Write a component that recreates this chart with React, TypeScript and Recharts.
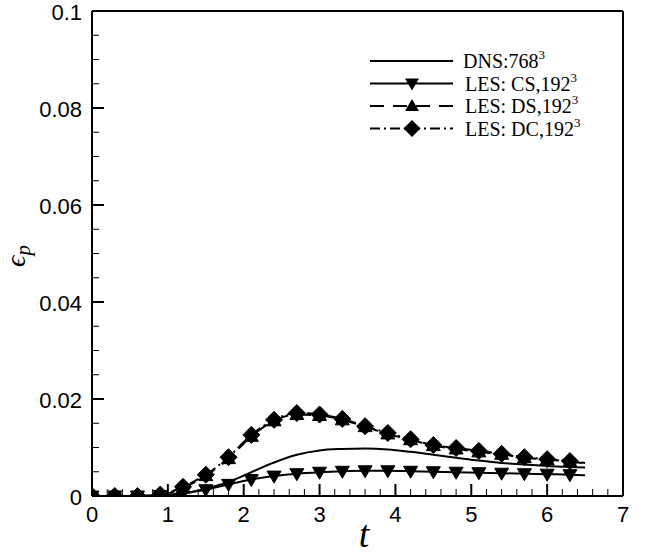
import { LineChart, Line, XAxis, YAxis, ReferenceLine } from 'recharts';

// time samples (markers every 0.3, curves end at 6.5)
const times = [0, 0.3, 0.6, 0.9, 1.2, 1.5, 1.8, 2.1, 2.4, 2.7, 3.0, 3.3, 3.6, 3.9, 4.2, 4.5, 4.8, 5.1, 5.4, 5.7, 6.0, 6.3, 6.5];
const dns768 = [0, 0, 0, 0, 0.0005, 0.0015, 0.0029, 0.0049, 0.0069, 0.0085, 0.0094, 0.0097, 0.0098, 0.0096, 0.0091, 0.0085, 0.0079, 0.0073, 0.0068, 0.0065, 0.0062, 0.006, 0.0059];
const lesCS = [0, 0, 0, 0.0001, 0.0006, 0.0013, 0.0024, 0.0034, 0.0041, 0.0046, 0.0049, 0.0051, 0.0052, 0.0052, 0.0051, 0.005, 0.0049, 0.0048, 0.0047, 0.0046, 0.0045, 0.0044, 0.0043];
const lesDS = [0, 0, 0, 0.0002, 0.0017, 0.0042, 0.0077, 0.0123, 0.0155, 0.0168, 0.0166, 0.0157, 0.0143, 0.0128, 0.0116, 0.0104, 0.0097, 0.0091, 0.0086, 0.0079, 0.0075, 0.0071, 0.0067];
const lesDC = [0, 0, 0, 0.0003, 0.0019, 0.0044, 0.008, 0.0126, 0.0157, 0.0171, 0.0168, 0.0159, 0.0144, 0.013, 0.0117, 0.0105, 0.0099, 0.0093, 0.0087, 0.008, 0.0076, 0.0072, 0.0068];

const xTicks = [0, 0.2, 0.4, 0.6, 0.8, 1, 1.2, 1.4, 1.6, 1.8, 2, 2.2, 2.4, 2.6, 2.8, 3, 3.2, 3.4, 3.6, 3.8, 4, 4.2, 4.4, 4.6, 4.8, 5, 5.2, 5.4, 5.6, 5.8, 6, 6.2, 6.4, 6.6, 6.8, 7];
const xLabels = [0, 1, 2, 3, 4, 5, 6, 7];
const yTicks = [0, 0.005, 0.01, 0.015, 0.02, 0.025, 0.03, 0.035, 0.04, 0.045, 0.05, 0.055, 0.06, 0.065, 0.07, 0.075, 0.08, 0.085, 0.09, 0.095, 0.1];
const yLabels = [0, 0.02, 0.04, 0.06, 0.08, 0.1];

const data = times.map((t, i) => ({ t, dns: dns768[i], cs: lesCS[i], ds: lesDS[i], dc: lesDC[i] }));
const markerCount = 22;

const tickFont = '"Liberation Sans", Arial, sans-serif';
const serif = '"Liberation Serif", "Times New Roman", serif';

const XTick = ({ x, y, payload }: any) => {
  const major = xLabels.includes(payload.value);
  return (
    <g>
      <line x1={x} y1={y} x2={x} y2={y - (major ? 12 : 7)} stroke="#000" strokeWidth={major ? 2 : 1} />
      {major && (
        <text x={x} y={y + 26} textAnchor="middle" fontFamily={tickFont} fontSize={22} fill="#000">
          {payload.value}
        </text>
      )}
    </g>
  );
};

const YTick = ({ x, y, payload }: any) => {
  const major = yLabels.includes(payload.value);
  return (
    <g>
      <line x1={x} y1={y} x2={x + (major ? 12 : 7)} y2={y} stroke="#000" strokeWidth={major ? 2 : 1} />
      {major && (
        <text x={x - 10} y={y + 9} textAnchor="end" fontFamily={tickFont} fontSize={22} fill="#000">
          {payload.value}
        </text>
      )}
    </g>
  );
};

const triDown = (cx: number, cy: number) => `M${cx - 7},${cy - 5} L${cx + 7},${cy - 5} L${cx},${cy + 7} Z`;
const triUp = (cx: number, cy: number) => `M${cx - 7},${cy + 5} L${cx + 7},${cy + 5} L${cx},${cy - 7} Z`;
const diamond = (cx: number, cy: number) => `M${cx},${cy - 8.5} L${cx + 8.5},${cy} L${cx},${cy + 8.5} L${cx - 8.5},${cy} Z`;

const makeDot = (shape: (cx: number, cy: number) => string) => (props: any) => {
  const { cx, cy, index } = props;
  if (index >= markerCount || cx == null || cy == null) return <g key={`n-${index}`} />;
  return <path key={`m-${index}`} d={shape(cx, cy)} fill="#000" stroke="#000" strokeWidth={1} />;
};

const legendRows = [
  { label: 'DNS:768', dash: undefined, shape: null, textX: 463 },
  { label: 'LES: CS,192', dash: undefined, shape: triDown, textX: 465 },
  { label: 'LES: DS,192', dash: '14 9', shape: triUp, textX: 465 },
  { label: 'LES: DC,192', dash: '10 4 2 4', shape: diamond, textX: 465 },
];

export default function App() {
  return (
    <div style={{ position: 'absolute', left: 0, top: 0, width: 653, height: 555, background: '#fff' }}>
      <LineChart width={653} height={555} data={data} margin={{ top: 11, right: 30, bottom: 0, left: 0 }}>
        <XAxis
          dataKey="t"
          type="number"
          domain={[0, 7]}
          ticks={xTicks}
          interval={0}
          tickSize={0}
          tickMargin={0}
          height={59}
          tick={<XTick />}
          axisLine={{ stroke: '#000', strokeWidth: 2 }}
          tickLine={false}
          allowDataOverflow
        />
        <YAxis
          type="number"
          domain={[0, 0.1]}
          ticks={yTicks}
          interval={0}
          tickSize={0}
          tickMargin={0}
          width={92}
          tick={<YTick />}
          axisLine={{ stroke: '#000', strokeWidth: 2 }}
          tickLine={false}
          allowDataOverflow
        />
        <ReferenceLine x={7} stroke="#000" strokeWidth={2} />
        <ReferenceLine y={0.1} stroke="#000" strokeWidth={2} />
        <Line dataKey="dns" type="monotone" stroke="#000" strokeWidth={2} dot={false} isAnimationActive={false} />
        <Line dataKey="cs" type="monotone" stroke="#000" strokeWidth={2} dot={makeDot(triDown)} isAnimationActive={false} />
        <Line dataKey="ds" type="monotone" stroke="#000" strokeWidth={2} strokeDasharray="14 9" dot={makeDot(triUp)} isAnimationActive={false} />
        <Line dataKey="dc" type="monotone" stroke="#000" strokeWidth={2} strokeDasharray="10 4 2 4" dot={makeDot(diamond)} isAnimationActive={false} />
      </LineChart>
      <svg width={653} height={555} style={{ position: 'absolute', left: 0, top: 0, pointerEvents: 'none' }}>
        {legendRows.map((row, i) => {
          const y = 61 + i * 22.5;
          return (
            <g key={row.label}>
              <line x1={370} y1={y} x2={453} y2={y} stroke="#000" strokeWidth={2} strokeDasharray={row.dash} />
              {row.shape && <path d={row.shape(412, y)} fill="#000" />}
              <text x={row.textX} y={y + 7} fontFamily={serif} fontSize={20} fill="#000">
                {row.label}
                <tspan dy={-9} fontSize={13}>3</tspan>
              </text>
            </g>
          );
        })}
        <text x={364} y={547} textAnchor="middle" fontFamily={serif} fontStyle="italic" fontSize={38} fill="#000">
          t
        </text>
        <text transform="translate(25,256) rotate(-90)" textAnchor="middle" fontFamily={serif} fontStyle="italic" fontSize={28} fill="#000">
          ϵ<tspan dy={5} fontSize={21}>p</tspan>
        </text>
      </svg>
    </div>
  );
}
